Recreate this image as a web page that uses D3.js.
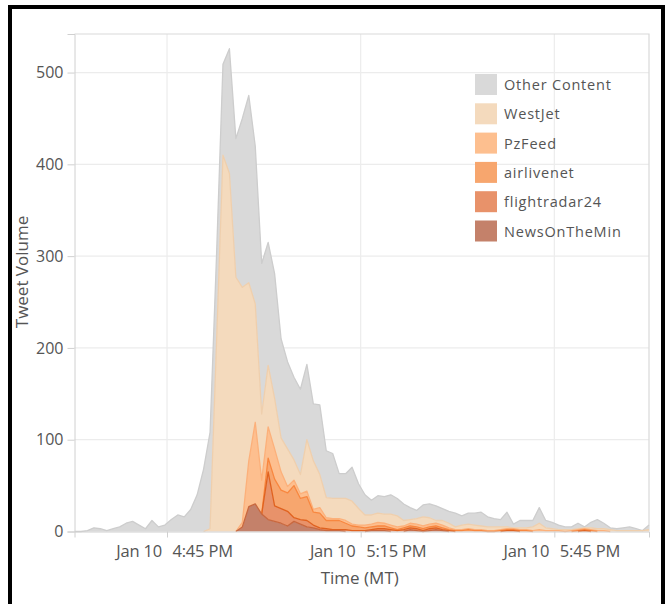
<!DOCTYPE html>
<html>
<head>
<meta charset="utf-8">
<script src="https://cdn.jsdelivr.net/npm/d3@7"></script>
<style>
  body { margin: 0; background: #fff; }
  svg text { font-family: "Open Sans", "Noto Sans", sans-serif; fill: #555; }
</style>
</head>
<body>
<div id="chart"></div>
<script>
// Tweet volume per minute, stacked by source (first bin at 4:30:40 PM MT)
const startTime = new Date(2017, 0, 10, 16, 30, 40);

const otherContent = [0,0,1,4,3,1,3,5,9,11, 7,3,12,5,7,13,18,16,24,40,
  68,105,95,99,136,151,184,204,172,164, 134,136,108,95,90,93,82,62,76,51,
  49,27,27,37,27,22,16,19,19,21, 19,18,13,9,13,15,16,13,13,15,
  10,12,13,15,11,9,8,16,4,8, 8,7,17,8,7,5,3,3,6,1,
  6,10,6,2,2,3,4,2,0,5];
const westJet = [0,0,0,0,0,0,0,0,0,0, 0,0,0,0,0,0,0,0,0,0,
  0,3,205,410,390,277,256,194,129,72, 67,55,37,41,22,21,56,53,36,22,
  22,22,24,25,18,11,10,10,10,12, 12,6,4,6,10,7,3,5,5,3,
  5,5,5,4,4,4,3,2,1,2, 2,4,7,3,2,1,2,1,1,1,
  2,2,2,2,1,1,1,1,1,2];
const pzFeed = [0,0,0,0,0,0,0,0,0,0, 0,0,0,0,0,0,0,0,0,0,
  0,0,0,0,0,0,5,50,89,37, 34,33,20,7,6,5,6,3,6,3,
  2,2,3,2,2,3,3,4,3,3, 3,2,3,3,3,3,3,3,2,1,
  1,1,1,1,1,1,1,1,1,1, 1,1,2,1,1,1,0,1,1,1,
  1,1,1,0,0,0,0,0,0,0];
const airliveNet = [0,0,0,0,0,0,0,0,0,0, 0,0,0,0,0,0,0,0,0,0,
  0,0,0,0,0,0,0,0,0,0, 15,29,20,20,35,23,26,14,16,9,
  10,10,7,5,4,3,3,3,3,2, 1,2,2,2,2,2,2,2,1,1,
  1,2,1,1,0,0,1,1,1,1, 1,0,0,0,0,0,0,0,1,1,
  1,0,0,0,0,0,0,0,0,0];
const flightRadar24 = [0,0,0,0,0,0,0,0,0,0, 0,0,0,0,0,0,0,0,0,0,
  0,0,0,0,0,0,0,0,0,0, 52,17,16,16,4,5,7,3,2,2,
  1,1,2,1,1,1,1,2,2,2, 1,2,2,2,1,2,2,1,1,0,
  0,0,0,0,0,0,0,1,1,0, 0,0,0,0,0,0,0,0,0,1,
  0,0,0,0,0,0,0,0,0,0];
const newsOnTheMin = [0,0,0,0,0,0,0,0,0,0, 0,0,0,0,0,0,0,0,0,0,
  0,0,0,0,0,0,5,27,30,19, 13,11,9,6,11,8,5,4,2,1,
  1,1,0,0,0,0,1,1,1,0, 0,0,2,1,0,1,2,1,0,0,
  0,0,0,0,0,0,0,0,0,0, 0,0,0,0,0,0,0,0,0,0,
  0,0,0,0,0,0,0,0,0,0];

const seriesNames = ["Other Content", "WestJet", "PzFeed", "airlivenet", "flightradar24", "NewsOnTheMin"];
const seriesValues = [otherContent, westJet, pzFeed, airliveNet, flightRadar24, newsOnTheMin];
const fillColors = ["#d9d9d9", "#f4dabd", "#fdbf8f", "#f7a66e", "#e8926a", "#c4816a"];
const lineColors = ["#cdcdcd", "#efcfad", "#fcb07a", "#f8873f", "#e0621f", "#c9683e"];
const yTicks = [0, 100, 200, 300, 400, 500];
const xTickTimes = [new Date(2017, 0, 10, 16, 45), new Date(2017, 0, 10, 17, 15), new Date(2017, 0, 10, 17, 45)];

const W = 667, H = 604;
const plot = { left: 74.5, right: 649, top: 34, bottom: 531.5 };

const svg = d3.select("#chart").append("svg")
    .attr("width", W)
    .attr("height", H);

// outer black frame
svg.append("rect")
    .attr("x", 10).attr("y", 7)
    .attr("width", 653).attr("height", 610)
    .attr("fill", "none")
    .attr("stroke", "#000")
    .attr("stroke-width", 4);

// build rows for stacking
const times = otherContent.map((_, i) => d3.timeMinute.offset(startTime, i));
const rows = times.map((t, i) => {
    const r = { time: t };
    seriesNames.forEach((name, s) => { r[name] = seriesValues[s][i]; });
    return r;
});

const stackKeys = seriesNames.slice().reverse(); // bottom first
const stacked = d3.stack().keys(stackKeys)(rows);

const x = d3.scaleTime()
    .domain(d3.extent(times))
    .range([plot.left, plot.right]);

const y = d3.scaleLinear()
    .domain([0, 542])
    .range([plot.bottom, plot.top]);

// grid
const grid = svg.append("g");
grid.selectAll(".hgrid")
    .data(yTicks.slice(1))
    .join("line")
    .attr("x1", plot.left).attr("x2", plot.right)
    .attr("y1", d => y(d)).attr("y2", d => y(d))
    .attr("stroke", "#ececec")
    .attr("stroke-width", 1.2);
grid.selectAll(".vgrid")
    .data(xTickTimes)
    .join("line")
    .attr("x1", d => x(d)).attr("x2", d => x(d))
    .attr("y1", plot.top).attr("y2", plot.bottom)
    .attr("stroke", "#ececec")
    .attr("stroke-width", 1.2);

// plot border (top and right)
svg.append("path")
    .attr("d", `M${plot.left},${plot.top}H${plot.right}V${plot.bottom}`)
    .attr("fill", "none")
    .attr("stroke", "#d9d9d9")
    .attr("stroke-width", 1.2);

// areas
const area = d3.area()
    .x(d => x(d.data.time))
    .y0(d => y(d[0]))
    .y1(d => y(d[1]));

const layers = svg.append("g");
stacked.slice().reverse().forEach(layer => {
    const idx = seriesNames.indexOf(layer.key);
    layers.append("path")
        .datum(layer)
        .attr("d", area)
        .attr("fill", fillColors[idx]);
});
stacked.slice().reverse().forEach(layer => {
    const idx = seriesNames.indexOf(layer.key);
    const vals = seriesValues[idx];
    // only stroke where the layer actually has some thickness
    const topLine = d3.line()
        .defined((d, i) => idx === 0 || vals[i] > 0 || vals[i - 1] > 0 || vals[i + 1] > 0)
        .x(d => x(d.data.time))
        .y(d => y(d[1]));
    layers.append("path")
        .datum(layer)
        .attr("d", topLine)
        .attr("fill", "none")
        .attr("stroke", lineColors[idx])
        .attr("stroke-width", 1.3)
        .attr("stroke-linejoin", "round");
});

// y axis
const yAxis = svg.append("g")
    .attr("transform", `translate(${plot.left},0)`)
    .call(d3.axisLeft(y).tickValues(yTicks).tickSize(7).tickPadding(4));
yAxis.select(".domain").attr("stroke", "#d0d0d0");
yAxis.selectAll(".tick line").attr("stroke", "#d0d0d0");
yAxis.selectAll(".tick text")
    .style("font-size", "16px")
    .attr("fill", "#555");

// x axis
const xAxis = svg.append("g")
    .attr("transform", `translate(0,${plot.bottom})`)
    .call(d3.axisBottom(x).tickValues(xTickTimes).tickSize(6).tickPadding(5)
        .tickFormat(d => d3.timeFormat("%b %d")(d) + "\u2002\u2009" + d3.timeFormat("%-I:%M %p")(d)));
xAxis.select(".domain").attr("stroke", "#d0d0d0");
xAxis.selectAll(".tick line").attr("stroke", "#d0d0d0");
xAxis.selectAll(".tick text")
    .style("font-size", "16.5px")
    .style("letter-spacing", "-0.2px")
    .attr("fill", "#555")
    .attr("dx", 7)
    .attr("dy", "0.85em");

// axis titles
svg.append("text")
    .attr("x", (plot.left + plot.right) / 2 - 2)
    .attr("y", 584)
    .attr("text-anchor", "middle")
    .style("font-size", "17px")
    .text("Time (MT)");

svg.append("text")
    .attr("transform", "rotate(-90)")
    .attr("x", -272)
    .attr("y", 28)
    .attr("text-anchor", "middle")
    .style("font-size", "17px")
    .text("Tweet Volume");

// legend
const legend = svg.append("g")
    .attr("transform", "translate(475,74)");
seriesNames.forEach((name, i) => {
    legend.append("rect")
        .attr("x", 0)
        .attr("y", i * 29.3)
        .attr("width", 22)
        .attr("height", 21)
        .attr("fill", fillColors[i]);
    legend.append("text")
        .attr("x", 29)
        .attr("y", i * 29.3 + 16)
        .style("font-size", "14.5px")
        .style("letter-spacing", "0.8px")
        .text(name);
});
</script>
</body>
</html>
